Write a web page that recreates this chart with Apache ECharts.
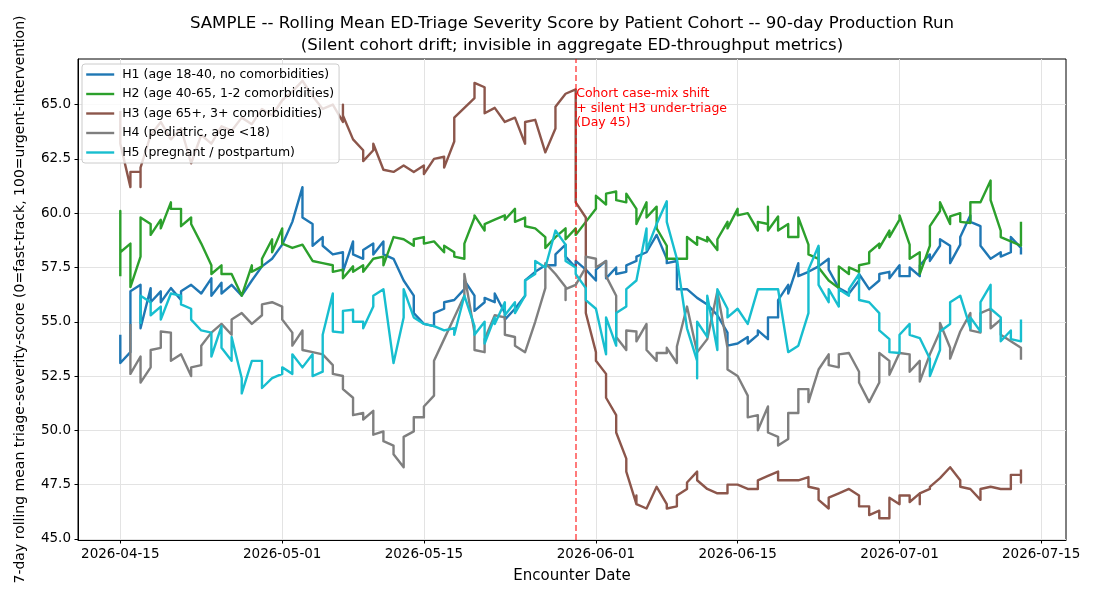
<!DOCTYPE html>
<html>
<head>
<meta charset="utf-8">
<script src="https://cdn.jsdelivr.net/npm/echarts@6/dist/echarts.min.js"></script>
<style>html,body{margin:0;padding:0;background:#fff}#c{width:1100px;height:600px}</style>
</head>
<body>
<div id="c"></div>
<script>
// ---- data (one inner list per day; several values = several encounters that day) ----
const startDate = '2026-04-15';
const tickDates = ['2026-04-15','2026-05-01','2026-05-15','2026-06-01','2026-06-15','2026-07-01','2026-07-15'];
const yTicks = [45.0, 47.5, 50.0, 52.5, 55.0, 57.5, 60.0, 62.5, 65.0];
const seriesNames = ['H1 (age 18-40, no comorbidities)','H2 (age 40-65, 1-2 comorbidities)','H3 (age 65+, 3+ comorbidities)','H4 (pediatric, age <18)','H5 (pregnant / postpartum)'];
const seriesFirstDay = [0, 0, 0, 1, 2];
const shiftDay = 45;
const shiftNote = 'Cohort case-mix shift\n+ silent H3 under-triage\n(Day 45)';
const shiftNoteLevel = 65.8;

const H1 = [[54.4,53.1],[53.6,56.4],[56.7,54.7],[56.55,55.9],[56.4,55.9],[56.55],[56.0,56.4],[56.7],[56.3],[57.0,56.2],
[56.8,56.3],[56.7],[56.2],[56.9],[57.55],[57.9],[58.55],[59.6],[61.2,59.8],[59.5,58.5],
[58.9,58.5],[58.1],[58.2,57.3],[58.7,58.1],[57.9,58.3],[58.6,58.1],[58.7,58.1],[57.9],[56.9],[56.2,55.4],
[54.9],[54.8,55.4],[55.6,55.9],[56.0],[56.5,56.9],[56.2,55.5],[55.9,56.1],[55.9,56.3],[55.4,55.1],[55.6],
[56.2,56.9],[57.3],[57.6],[57.6,58.1],[58.55,58.0],[57.5,57.8],[57.4],[56.9,57.4],[57.8,57.0],[57.5,57.2],
[57.3,57.6],[57.8,58.0],[58.2],[59.0],[57.9,57.7],[57.8,56.5],[56.5],[56.1],[55.8],[55.3],
[54.5,53.9],[54.0],[54.3,54.0],[54.4,54.6],[54.2,55.2],[55.2,56.0],[56.7,56.3],[57.7,57.1],[57.3],[57.55],
[57.9,57.4],[56.55],[56.3],[56.9,57.2],[56.5],[56.9,57.2],[57.3,57.0],[57.6,57.1],[57.1,57.5],[57.1,57.6],
[58.1,57.8],[58.5,58.8],[58.5,57.7],[58.55,58.9],[59.9,59.6],[59.4,58.5],[57.9],[58.2,58.0],[58.2,58.9],[58.4,58.1]];

const H2 = [[57.1,60.1,58.2],[58.6,56.6],[58.0,59.8],[59.5,59.0],[59.7,59.3],[60.5,60.2],[60.2,59.4],[59.8,59.5],[58.6],[57.6,57.2],
[57.6,57.2],[57.2],[56.2],[57.6,57.3],[57.55,57.9],[58.8,58.2],[59.3,58.6],[58.4],[58.55],[57.8],
[57.7],[57.6,57.3],[57.4,57.0],[57.55,57.3],[57.6,57.3],[57.9],[58.0,57.6],[58.9],[58.8],[58.5,58.8],
[58.9,58.6],[58.7],[58.2,58.5],[58.2,58.0],[57.9,58.6],[59.8,59.9],[59.2,59.5],[59.7],[59.9,59.7],[60.2,59.6],
[59.8,59.4],[59.3],[58.9,58.4],[58.9],[59.3,58.8],[59.3,59.0],[59.6],[60.2,60.8],[60.4,60.9],[61.0,60.6],
[60.5,60.9],[60.2,59.5],[60.5,59.8],[60.3,59.3],[58.5,57.9],[57.9],[57.9,58.9],[58.55,58.9],[58.7,58.9],[58.3,58.8],
[59.6,59.3],[60.2,59.9],[60.0],[59.2,59.6],[59.5,60.3,59.2],[59.85,59.2],[59.5,58.9],[58.9,59.8],[58.55,58.1],[57.9,58.4,57.5],
[56.9],[56.55,57.55],[57.2,57.5],[57.3,57.6],[57.7,58.2],[58.6,58.4],[59.2,58.9],[59.7,59.9],[58.55,57.9],[58.2,57.2],
[58.5,59.4],[60.1,60.5],[59.5,59.85],[60.0,59.6],[59.55,60.5],[60.5],[61.5,60.6],[59.2,58.9],[58.7],[58.5,59.6]];

const H3 = [[64.7,63.2],[61.2,61.9],[61.9,61.2,62.1],[63.6],[64.2],[63.4],[63.9],[62.3],[63.6],[63.2],
[64.0],[63.8],[64.4],[64.1],[64.8],[64.5],[65.2],[65.6],[66.1],[65.4],
[64.8],[65.0],[64.2,65.0,64.5],[63.4],[62.9,62.4],[62.9,63.2],[62.0],[61.9],[62.2],[61.9],
[62.2,61.8],[62.5],[62.6,62.1],[63.3,64.4],[64.85],[65.3,66.0],[65.8,64.6],[64.85],[64.2],[64.4],
[63.2,64.2],[64.3],[62.8],[63.9,64.9],[65.5],[65.7,60.5],[59.8,55.4],[53.6,53.2],[52.6,51.5],[50.7,49.9],
[48.7,48.1],[46.6,47.0,46.6],[46.4],[47.4],[46.6,46.4],[46.5,47.0],[47.3,47.6],[48.1,47.7],[47.3],[47.1],
[47.1,47.5],[47.5],[47.3],[47.3,47.7],[47.9],[48.1,47.7],[47.7],[47.7],[47.85,47.4],[47.3,46.8],
[46.4,46.9],[47.1],[47.3],[47.0,46.5],[46.5,46.1],[46.3,45.95],[45.95,46.9],[46.6,47.0],[47.0,46.7],[47.1,46.6,47.1],
[47.3,47.4],[47.8],[48.3],[47.7,47.4],[47.3],[46.8,47.3],[47.4],[47.3],[47.3,47.95],[47.95,47.6,48.2]];

const H4 = [[54.9,52.6],[53.4,52.2],[52.9,53.7],[53.8,54.55],[54.5,53.2],[53.5],[52.5,52.9],[53.0,53.9],[54.5],
[54.9],[54.4,55.1],[55.4],[54.9],[55.3,55.8],[55.9],[55.7,55.1],[54.5,53.9],[54.6,53.7],[53.6],
[53.5],[53.0,52.6],[52.5,51.9],[51.5,50.7],[50.8,50.5],[50.9,49.8],[49.95,49.5],[49.3,48.9],[48.3,49.7],[49.95,50.6],
[50.6,51.1],[51.6,53.2],[54.2],[55.2],[56.2,57.2],[54.5,53.7],[53.6,54.2],[55.3],[55.2,54.4],[54.3,53.9],
[53.6],[55.0],[56.55,57.7],[57.2],[56.6,56.0,56.5],[56.7],[57.5,58.0],[57.9,57.5],[57.8,57.1],[56.2,54.3],
[53.7,54.6],[54.55,54.1],[54.9,53.7],[53.2,53.56],[53.56,53.8],[53.1,53.86],[55.7],[53.6],[54.2],[56.4],
[53.8,52.8],[52.5],[51.6,50.6],[50.7,50.0],[51.1,49.9],[49.7,49.3],[49.6,50.8],[50.8,51.9],[51.9,51.3],[52.8],
[53.5,53.0],[52.9,53.5],[53.56],[52.7,52.2],[51.3],[52.2,53.56],[53.2,52.56],[53.56],[53.5,52.7],[53.2,52.25],
[53.5],[54.55,54.94],[53.8,53.3],[54.55],[55.4,54.6],[54.5,55.4],[55.6,54.7],[55.1,54.4],[54.1],[53.8,53.25]];

const H5 = [[54.9,56.2],[55.9,55.3],[55.7,55.1],[56.3],[56.2,55.8],[55.6,55.1],[54.6],[54.5,53.4],
[54.8,53.8],[53.2,54.3],[52.4,51.7],[53.2],[53.2,51.95],[52.4],[52.6,52.9],[52.6,53.5],[52.9],[53.5,52.5],
[52.7,54.4],[56.3,54.55],[54.5,55.5],[55.55,55.0],[55.0,54.7],[55.7,56.2],[56.5],[53.1],[55.2,56.5],[55.2],
[54.9],[54.8],[54.6],[54.7,54.4],[56.2],[54.8,54.4],[55.0,54.0],[55.2,54.9],[55.9,55.3],[55.9,55.4],
[56.2,56.9],[57.2,57.8],[57.5],[59.2],[58.55,57.8],[57.5,57.2],[56.55,56.0],[55.6],[53.5,55.2],[53.9,55.4],
[55.7,56.5],[56.9],[59.3,58.3],[59.5],[60.55,59.6],[57.9],[54.7],[53.2,52.4,55.0],[54.3,56.2],[53.7,56.5],
[55.6,55.2],[55.6],[54.9],[56.5],[56.5],[56.5],[53.6],[53.9],[55.4,57.4],[58.5,56.7],
[55.9,56.5],[55.7,56.5],[56.2,56.5],[57.2,56.0],[55.9],[55.4,54.6],[54.2,53.6],[53.56,54.4],[54.9,54.4],[54.25],
[53.3,52.5],[53.7,54.55],[54.9,55.9],[56.2],[54.7,55.2],[54.55,55.9],[56.7,55.6],[55.2,54.1],[54.6,54.2],[54.1,55.1]];

const allSeries = [H1, H2, H3, H4, H5];
const colors = ['#1f77b4', '#2ca02c', '#8c564b', '#7f7f7f', '#17becf'];

// ---- build ----
const DAY = 86400000;
const t0 = Date.parse(startDate + 'T00:00:00Z');
const tickTs = tickDates.map(d => Date.parse(d + 'T00:00:00Z'));
function toPoints(days, first) {
  const pts = [];
  days.forEach((vals, i) => vals.forEach(v => pts.push([t0 + (first + i) * DAY, v])));
  return pts;
}
const fmtDate = v => new Date(v).toISOString().slice(0, 10);
const FONT = 'DejaVu Sans';

const series = allSeries.map((arr, k) => ({
  name: seriesNames[k], type: 'line', data: toPoints(arr, seriesFirstDay[k]),
  symbol: 'none', showSymbol: false, z: 2 + k,
  lineStyle: { color: colors[k], width: 2.4, join: 'round', cap: 'butt' },
  itemStyle: { color: colors[k] }, animation: false
}));
series.push({
  name: '__shift', type: 'line', data: [], symbol: 'none', z: 10, silent: true,
  markLine: {
    silent: true, symbol: ['none', 'none'], animation: false,
    label: { show: false },
    lineStyle: { color: 'rgba(255,0,0,0.65)', width: 1.6, type: [6, 3] },
    data: [{ xAxis: t0 + shiftDay * DAY }]
  },
  markPoint: {
    silent: true, animation: false, symbol: 'circle', symbolSize: 1,
    itemStyle: { color: 'rgba(0,0,0,0)' },
    label: {
      show: true, formatter: shiftNote, position: [1, 0], align: 'left', verticalAlign: 'top',
      color: '#ff0000', fontFamily: FONT, fontSize: 12.5, lineHeight: 14.5
    },
    data: [{ coord: [t0 + shiftDay * DAY, shiftNoteLevel] }]
  }
});

const chart = echarts.init(document.getElementById('c'), null, { renderer: 'canvas' });
chart.setOption({
  animation: false,
  backgroundColor: '#ffffff',
  title: {
    text: 'SAMPLE -- Rolling Mean ED-Triage Severity Score by Patient Cohort -- 90-day Production Run\n(Silent cohort drift; invisible in aggregate ED-throughput metrics)',
    left: 567, top: 8, textAlign: 'center',
    textStyle: { fontFamily: FONT, fontSize: 16.6, fontWeight: 'normal', color: '#000', lineHeight: 22 }
  },
  legend: {
    data: seriesNames, orient: 'vertical', left: 82, top: 64,
    padding: [4, 5, 4, 3], itemGap: 6.5, itemWidth: 28, itemHeight: 14,
    backgroundColor: 'rgba(255,255,255,0.8)', borderColor: '#cccccc', borderWidth: 1, borderRadius: 3,
    textStyle: { fontFamily: FONT, fontSize: 12.5, color: '#000', padding: [0, 0, 0, 3] },
    itemStyle: { color: 'rgba(0,0,0,0)', borderWidth: 0, opacity: 0 },
    lineStyle: { width: 2.4 }, z: 20
  },
  grid: { left: 78, right: 34, top: 59, bottom: 60, show: true, borderColor: '#000', borderWidth: 1, backgroundColor: 'transparent' },
  xAxis: {
    type: 'value', min: t0 - 4.18 * DAY, max: t0 + 93.45 * DAY,
    name: 'Encounter Date', nameLocation: 'middle', nameGap: 29,
    nameTextStyle: { fontFamily: FONT, fontSize: 15, color: '#000' },
    axisLine: { show: true, onZero: false, lineStyle: { color: '#000', width: 1 } },
    axisTick: { show: true, length: 3.5, customValues: tickTs, lineStyle: { color: '#000' } },
    axisLabel: { customValues: tickTs, formatter: fmtDate, margin: 7, fontFamily: FONT, fontSize: 13.5, color: '#000', showMinLabel: true, showMaxLabel: true },
    splitLine: { show: true, lineStyle: { color: '#e3e3e3', width: 1 } }
  },
  yAxis: {
    type: 'value', min: 44.95, max: 67.1,
    name: '7-day rolling mean triage-severity-score (0=fast-track, 100=urgent-intervention)',
    nameLocation: 'middle', nameGap: 51, nameRotate: 90,
    nameTextStyle: { fontFamily: FONT, fontSize: 14, color: '#000' },
    axisLine: { show: true, onZero: false, lineStyle: { color: '#000', width: 1 } },
    axisTick: { show: true, length: 3.5, customValues: yTicks, lineStyle: { color: '#000' } },
    axisLabel: { customValues: yTicks, formatter: v => v.toFixed(1), margin: 7, fontFamily: FONT, fontSize: 13.5, color: '#000' },
    splitLine: { show: true, lineStyle: { color: '#e3e3e3', width: 1 } }
  },
  series: series
});
</script>
</body>
</html>
